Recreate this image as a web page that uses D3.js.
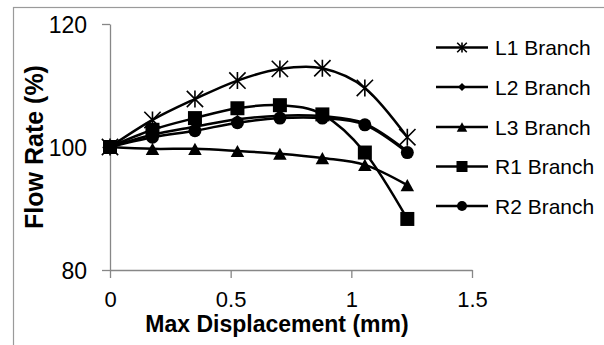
<!DOCTYPE html>
<html>
<head>
<meta charset="utf-8">
<script src="https://cdn.jsdelivr.net/npm/d3@7"></script>
<style>
  html, body { margin: 0; padding: 0; background: #fff; }
  svg { display: block; font-family: "Liberation Sans", Arial, sans-serif; }
</style>
</head>
<body>
<svg id="chart" width="604" height="345"></svg>
<script>
// Displacement steps (mm) and flow rate per branch (%)
const displacement = [0, 0.176, 0.352, 0.528, 0.704, 0.88, 1.056, 1.232];
const l1Branch = [100, 104.4, 107.8, 110.8, 112.7, 112.8, 109.6, 101.6];
const l2Branch = [100, 102.0, 103.3, 104.5, 105.1, 105.0, 103.8, 99.3];
const l3Branch = [100, 99.7, 99.7, 99.35, 98.9, 98.2, 97.1, 93.8];
const r1Branch = [100, 102.8, 104.7, 106.3, 106.8, 105.3, 99.1, 88.3];
const r2Branch = [100, 101.6, 102.65, 103.95, 104.7, 104.7, 103.6, 99.1];

const seriesNames = ["L1 Branch", "L2 Branch", "L3 Branch", "R1 Branch", "R2 Branch"];
const seriesMarkers = ["star", "diamond", "triangle", "square", "circle"];
const seriesValues = [l1Branch, l2Branch, l3Branch, r1Branch, r2Branch];

const xTicks = [0, 0.5, 1, 1.5];
const yTicks = [80, 100, 120];

const svg = d3.select("#chart");
const axisColor = "#878787";

// Outer frame of the chart area
svg.append("rect")
  .attr("x", 13.5).attr("y", 7.5)
  .attr("width", 620).attr("height", 360)
  .attr("fill", "none").attr("stroke", "#9a9a9a").attr("stroke-width", 1.2);

const x = d3.scaleLinear().domain([0, 1.5]).range([110, 472]);
const y = d3.scaleLinear().domain([80, 120]).range([270, 24]);

// Axes
const gx = svg.append("g").attr("transform", `translate(0,${y(80)})`)
  .call(d3.axisBottom(x).tickValues(xTicks).tickSize(8).tickSizeOuter(0)
    .tickFormat(d => String(d)));
const gy = svg.append("g").attr("transform", `translate(${x(0)},0)`)
  .call(d3.axisLeft(y).tickValues(yTicks).tickSize(8).tickSizeOuter(0)
    .tickFormat(d => String(d)));

[gx, gy].forEach(g => {
  g.select(".domain").attr("stroke", axisColor).attr("stroke-width", 1.3);
  g.selectAll(".tick line").attr("stroke", axisColor).attr("stroke-width", 1.3);
  g.selectAll(".tick text").attr("fill", "#000").attr("font-size", 23)
    .attr("font-family", "'Liberation Sans', Arial, sans-serif");
});
gx.selectAll(".tick text").attr("y", 36.5).attr("dy", 0).attr("font-size", 22);
gy.selectAll(".tick text").attr("x", -23).attr("dy", "0.36em");

// Axis titles
svg.append("text")
  .attr("x", 277).attr("y", 332)
  .attr("text-anchor", "middle")
  .attr("font-size", 23).attr("font-weight", "bold")
  .text("Max Displacement (mm)");
svg.append("text")
  .attr("transform", `translate(42.5,${y(100)}) rotate(-90)`)
  .attr("text-anchor", "middle")
  .attr("font-size", 25).attr("font-weight", "bold")
  .text("Flow Rate (%)");

// Marker shapes, centred on (0,0), s = overall width
function markerPath(type, s) {
  const r = s / 2;
  switch (type) {
    case "square":
      return `M${-r},${-r}H${r}V${r}H${-r}Z`;
    case "diamond":
      return `M0,${-r}L${r},0L0,${r}L${-r},0Z`;
    case "triangle": {
      const h = s * 0.9;
      return `M0,${-h / 2}L${r},${h / 2}L${-r},${h / 2}Z`;
    }
    case "circle":
      return `M${r},0A${r},${r} 0 1,1 ${-r},0A${r},${r} 0 1,1 ${r},0Z`;
    case "star": {
      const d = r * 0.96;
      return `M0,${-r}V${r}M${-d},${-d}L${d},${d}M${d},${-d}L${-d},${d}`;
    }
  }
}

function drawMarker(g, type, s) {
  const p = g.append("path").attr("d", markerPath(type, s));
  if (type === "star") {
    p.attr("fill", "none").attr("stroke", "#000").attr("stroke-width", 1.6);
  } else {
    p.attr("fill", "#000").attr("stroke", "none");
  }
}

const plotSizes = { star: 17, diamond: 9, triangle: 13.5, square: 14, circle: 13 };
const legendSizes = { star: 10, diamond: 8, triangle: 10.5, square: 11, circle: 10 };

const line = d3.line()
  .x((d, i) => x(displacement[i]))
  .y(d => y(d))
  .curve(d3.curveCatmullRom.alpha(0));

const plot = svg.append("g");
seriesValues.forEach((vals, k) => {
  const g = plot.append("g");
  g.append("path")
    .attr("d", line(vals))
    .attr("fill", "none").attr("stroke", "#000").attr("stroke-width", 2.5);
  vals.forEach((v, i) => {
    const m = g.append("g").attr("transform", `translate(${x(displacement[i])},${y(v)})`);
    drawMarker(m, seriesMarkers[k], plotSizes[seriesMarkers[k]]);
  });
});

// Legend
const legend = svg.append("g");
const legendY = [47.5, 87, 127, 166.5, 206];
seriesNames.forEach((name, k) => {
  const g = legend.append("g").attr("transform", `translate(0,${legendY[k]})`);
  g.append("line").attr("x1", 436).attr("x2", 488).attr("y1", 0).attr("y2", 0)
    .attr("stroke", "#000").attr("stroke-width", 2.5);
  const m = g.append("g").attr("transform", "translate(462,0)");
  drawMarker(m, seriesMarkers[k], legendSizes[seriesMarkers[k]]);
  g.append("text").attr("x", 495).attr("y", 0).attr("dy", "0.36em")
    .attr("font-size", 21).text(name);
});
</script>
</body>
</html>
